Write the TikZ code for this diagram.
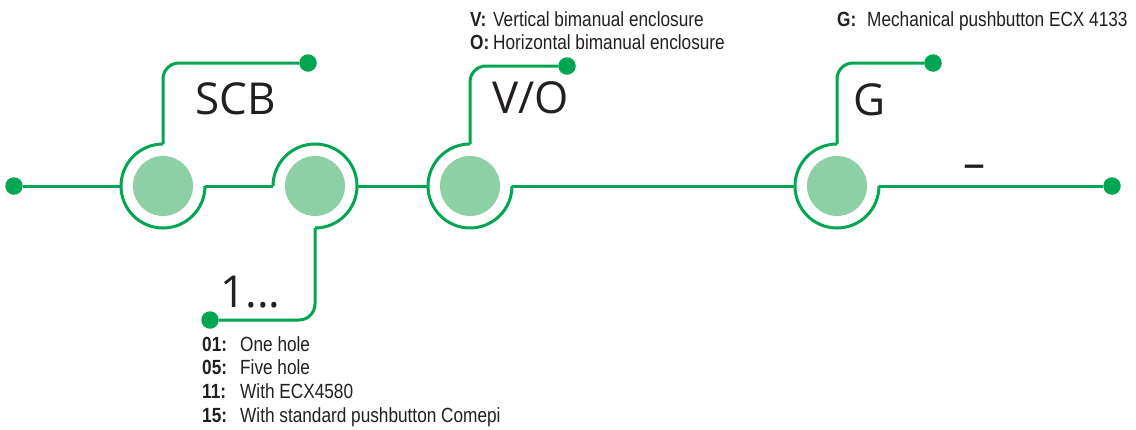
\documentclass[tikz,border=0pt]{standalone}
\usepackage{fontspec}
\setmainfont{Liberation Sans}
\newfontfamily\bigfont{Open Sans}
\newfontfamily\smallfont[FakeStretch=0.84]{Liberation Sans}
\definecolor{lgreen}{HTML}{00A651}
\definecolor{fillg}{HTML}{8ED0A5}
\definecolor{ink}{HTML}{231F20}
\begin{document}
\begin{tikzpicture}[x=1pt,y=1pt,
  wire/.style={draw=lgreen, line width=3pt},
  btn/.style={circle, fill=fillg, minimum size=60pt, inner sep=0pt},
  ringc/.style={circle, minimum size=84pt, inner sep=0pt, outer sep=0pt},
  dotn/.style={circle, fill=lgreen, minimum size=17.5pt, inner sep=0pt, outer sep=0pt},
  big/.style={font=\bigfont\fontsize{44}{44}\selectfont, text=ink, inner sep=0pt, anchor=base west},
  small/.style={font=\smallfont\fontsize{20.5}{24}\selectfont, text=ink, inner sep=0pt, anchor=base west}]
\useasboundingbox (0,0) rectangle (1136,-429);

% buttons and rings
\node[btn] (b1) at (163,-186) {};
\node[btn] (b2) at (315,-186) {};
\node[btn] (b3) at (470,-186) {};
\node[btn] (b4) at (837,-186) {};
\node[ringc] (r1) at (163,-186) {};
\node[ringc] (r2) at (315,-186) {};
\node[ringc] (r3) at (470,-186) {};
\node[ringc] (r4) at (837,-186) {};

% dots
\node[dotn] (dl) at (14,-186) {};
\node[dotn] (dr) at (1112,-186) {};
\node[dotn] (d1) at (308,-63) {};
\node[dotn] (d2) at (210,-320) {};
\node[dotn] (d3) at (567,-66) {};
\node[dotn] (d4) at (933,-63) {};

% rings
\draw[wire] (r1.north) arc[start angle=90, end angle=360, radius=42];
\draw[wire] (r2.west) arc[start angle=180, end angle=-90, radius=42];
\draw[wire] (r3.north) arc[start angle=90, end angle=360, radius=42];
\draw[wire] (r4.north) arc[start angle=90, end angle=360, radius=42];

% main line
\draw[wire] (dl) -- (r1.west);
\draw[wire] (r1.east) -- (r2.west);
\draw[wire] (r2.east) -- (r3.west);
\draw[wire] (r3.east) -- (r4.west);
\draw[wire] (r4.east) -- (dr);

% branches
\draw[wire, rounded corners=16pt] (r1.north) |- (d1);
\draw[wire, rounded corners=16pt] (r2.south) |- (d2);
\draw[wire, rounded corners=16pt] (r3.north) |- (d3);
\draw[wire, rounded corners=16pt] (r4.north) |- (d4);

% big labels
\node[big] (scb) at (195,-114) {SCB};
\node[big] (vo) at (492,-113) {V/O};
\node[big] (g) at (853,-115) {G};
\node[big] (one) at (220,-307) {1...};
\node[big] (dash) at (963,-178) {–};

% small texts
\node[small] (tv) at (470,-26) {\makebox[23pt][l]{\bfseries V:}Vertical bimanual enclosure};
\node[small] (to) at (470,-49.5) {\makebox[23pt][l]{\bfseries O:}Horizontal bimanual enclosure};
\node[small] (tg) at (837,-26) {\makebox[30pt][l]{\bfseries G:}Mechanical pushbutton ECX 4133};
\node[small] (t01) at (202,-351) {\makebox[38pt][l]{\bfseries 01:}One hole};
\node[small] (t05) at (202,-374.5) {\makebox[38pt][l]{\bfseries 05:}Five hole};
\node[small] (t11) at (202,-398) {\makebox[38pt][l]{\bfseries 11:}With ECX4580};
\node[small] (t15) at (202,-422) {\makebox[38pt][l]{\bfseries 15:}With standard pushbutton Comepi};
\end{tikzpicture}
\end{document}
